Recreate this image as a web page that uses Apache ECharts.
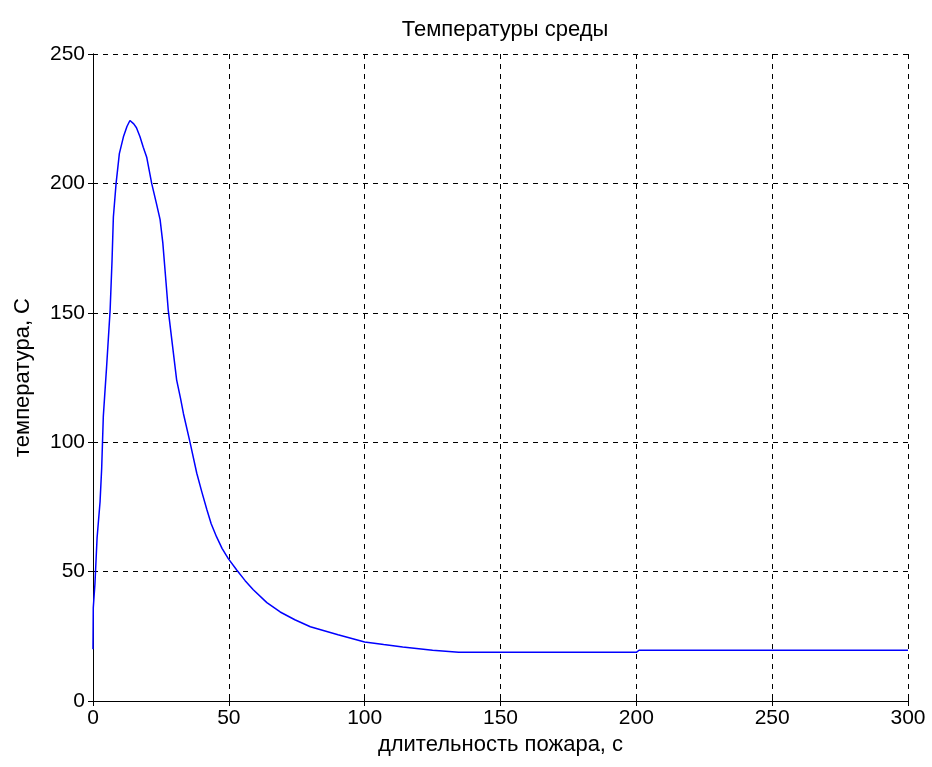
<!DOCTYPE html>
<html>
<head>
<meta charset="utf-8">
<script src="https://cdn.jsdelivr.net/npm/echarts@6/dist/echarts.min.js"></script>
<style>
  html, body { margin: 0; padding: 0; background: #fff; }
  #chart { width: 932px; height: 767px; }
</style>
</head>
<body>
<div id="chart"></div>
<script>
// время, с
const timeSec = [0, 0.1, 0.7, 1.5, 2.6, 3.2, 3.8, 4.3, 5, 6.3, 7, 7.5, 8.5, 9.7, 11.2, 12.5, 13.6,
  15, 16, 17.3, 18.5, 19.8, 21.6, 23.4, 24.7, 25.7, 26.9, 27.7, 29.3, 30.8, 32.2, 33.3, 35.7,
  38.2, 40, 41.9, 43.5, 45.5, 47.5, 49.8, 52.9, 56, 59, 64, 68.9, 74.3, 80, 90.2, 100, 107,
  114, 125, 134.6, 200, 201, 300]
// температура, С
const tempC = [20, 36, 45, 63, 77, 90, 110, 118, 129, 151, 170, 187, 200, 211.5, 218, 222, 224.3,
  223, 221.5, 218, 214, 210, 200, 192, 186, 177, 161.5, 151, 137, 124, 117, 111, 100,
  88, 81, 74, 68.5, 63.4, 59, 55, 50.6, 46.5, 43, 38, 34.4, 31.4, 28.7, 25.6, 22.8, 21.8,
  20.9, 19.6, 18.8, 18.8, 19.6, 19.6]
const xTicks = [0, 50, 100, 150, 200, 250, 300]
const yTicks = [0, 50, 100, 150, 200, 250]

const font = 'Liberation Sans, Arial, sans-serif'
const chart = echarts.init(document.getElementById('chart'))

const baseX = {
  type: 'value', min: 0, max: 300, interval: 50,
  axisLine: { show: true, lineStyle: { color: '#000', width: 1 } },
  axisTick: { show: true, inside: true, length: 5, lineStyle: { color: '#000' } },
  splitLine: { show: false }
}
const baseY = {
  type: 'value', min: 0, max: 250, interval: 50,
  axisLine: { show: true, lineStyle: { color: '#000', width: 1 } },
  axisTick: { show: true, inside: true, length: 5, lineStyle: { color: '#000' } },
  splitLine: { show: false }
}

chart.setOption({
  animation: false,
  backgroundColor: '#fff',
  title: {
    text: 'Температуры среды',
    left: 500, top: 14, textAlign: 'center',
    textStyle: { fontFamily: font, fontSize: 22, fontWeight: 'normal', color: '#000' }
  },
  grid: { left: 93, right: 24, top: 54, bottom: 66 },
  xAxis: [
    Object.assign({}, baseX, {
      position: 'bottom',
      name: 'длительность пожара, с', nameLocation: 'middle', nameGap: 32,
      nameTextStyle: { fontFamily: font, fontSize: 22, color: '#000' },
      axisLabel: { margin: 7, fontFamily: font, fontSize: 21, color: '#000',
        formatter: v => xTicks.includes(v) ? String(v) : '' },
      splitLine: { show: true, lineStyle: { color: '#000', type: [5, 5], width: 1 } }
    }),
    Object.assign({}, baseX, { position: 'top', axisLabel: { show: false } })
  ],
  yAxis: [
    Object.assign({}, baseY, {
      position: 'left',
      name: 'температура, С', nameLocation: 'middle', nameGap: 59,
      nameTextStyle: { fontFamily: font, fontSize: 22, color: '#000' },
      axisLabel: { margin: 8, fontFamily: font, fontSize: 21, color: '#000',
        formatter: v => yTicks.includes(v) ? String(v) : '' },
      splitLine: { show: true, lineStyle: { color: '#000', type: [5, 5], width: 1 } }
    }),
    Object.assign({}, baseY, { position: 'right', axisLabel: { show: false } })
  ],
  series: [{
    type: 'line',
    data: timeSec.map((t, i) => [t, tempC[i]]),
    showSymbol: false,
    smooth: false,
    lineStyle: { color: '#0000ff', width: 1.5 },
    z: 3
  }]
})
</script>
</body>
</html>
